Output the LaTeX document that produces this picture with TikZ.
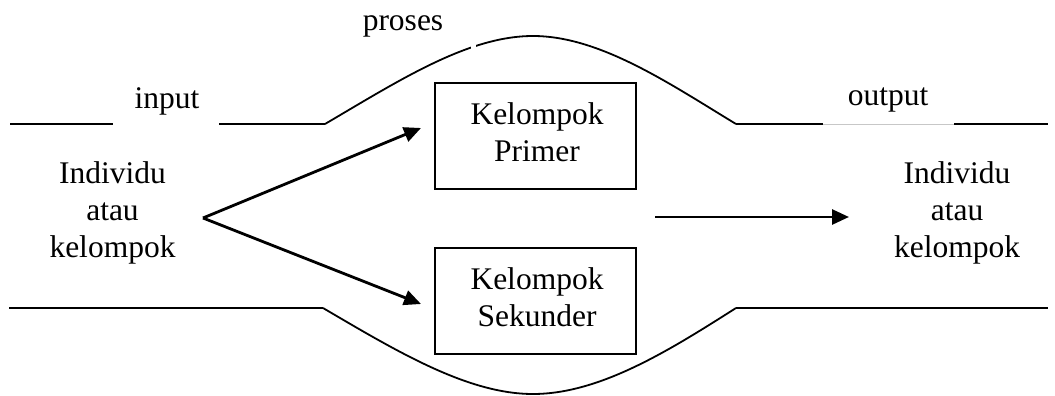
\documentclass[tikz,border=0pt]{standalone}
\usepackage{fontspec}
\setmainfont{Liberation Serif}
\usetikzlibrary{arrows.meta}
\begin{document}
\begin{tikzpicture}[x=1pt,y=-1pt,
  lbl/.style={font=\fontsize{31.5}{37}\selectfont, inner sep=0pt, align=center, anchor=base},
  boxnode/.style={draw, line width=2pt, minimum width=201pt, minimum height=106pt, inner sep=0pt},
  ln/.style={line width=2pt},
  curve/.style={line width=1.8pt},
  arr/.style={line width=2.8pt, -{Triangle[length=17pt,width=15pt]}}]
\useasboundingbox (0,0) rectangle (1055,396);
% boundary lines
\draw[ln] (10,124) -- (113,124);
\draw[ln] (219,124) -- (325,124);
\draw[curve] (325,124) .. controls (400,80) and (468,36) .. (533,36)
  .. controls (600,36) and (670,84) .. (736,124);
\fill[white] (471,38) rectangle (476,58);
\draw[ln] (736,124) -- (823,124);
\draw[line width=0.8pt, black!22] (823,124) -- (954,124);
\draw[ln] (954,124) -- (1048,124);
\draw[ln] (9,308) -- (323,308);
\draw[curve] (323,308) .. controls (398,352) and (468,394) .. (533,394)
  .. controls (600,394) and (670,350) .. (736,308);
\draw[ln] (736,308) -- (1048,308);
% labels (base anchor = baseline of last line)
\node[lbl] (proses) at (403,31) {proses};
\node[lbl] (input) at (167,108) {input};
\node[lbl] (output) at (888,106) {output};
\node[lbl] (src) at (112.5,257) {Individu\\atau\\kelompok};
\node[lbl] (dst) at (957,257) {Individu\\atau\\kelompok};
% boxes
\node[boxnode] (prim) at (535.5,136) {};
\node[lbl] (primt) at (537,161) {Kelompok\\Primer};
\node[boxnode] (sek) at (535.5,301) {};
\node[lbl] (sekt) at (537,326) {Kelompok\\Sekunder};
% arrows
\coordinate (fork) at (203,218);
\coordinate (tipP) at (421,128);
\coordinate (tipS) at (421,304);
\coordinate (hs) at (655,217);
\coordinate (he) at (849,217);
\draw[arr] (fork) -- (tipP);
\draw[arr] (fork) -- (tipS);
\draw[arr] (hs) -- (he);
\end{tikzpicture}
\end{document}
